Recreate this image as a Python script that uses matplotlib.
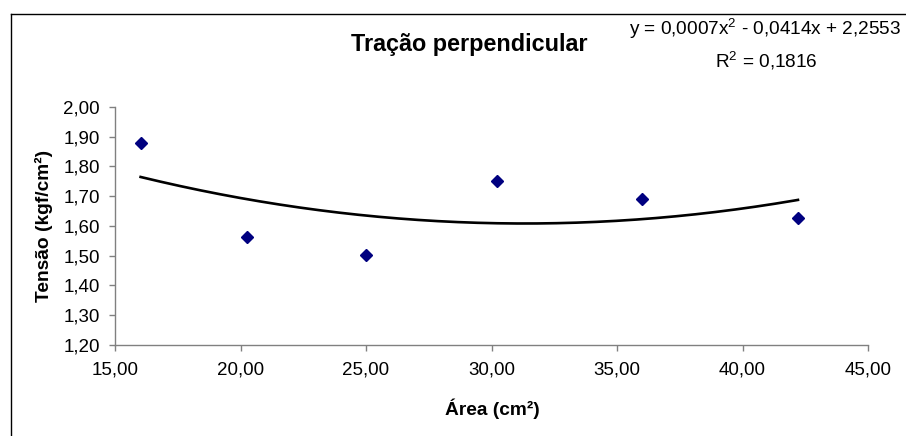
import numpy as np
import matplotlib
matplotlib.use("Agg")
import matplotlib.pyplot as plt
from matplotlib.lines import Line2D
from matplotlib.ticker import FuncFormatter

plt.rcParams["font.family"] = ["Liberation Sans", "DejaVu Sans"]

# pontos medidos
area = [16.02, 20.25, 25.00, 30.23, 35.98, 42.21]
tensao = [1.879, 1.562, 1.502, 1.751, 1.690, 1.626]

titulo = "Tração perpendicular"
eq_linha1 = "y = 0,0007x$^2$ - 0,0414x + 2,2553"
eq_linha2 = "R$^2$ = 0,1816"

x_ticks = [15, 20, 25, 30, 35, 40, 45]
y_ticks = [1.2, 1.3, 1.4, 1.5, 1.6, 1.7, 1.8, 1.9, 2.0]

plt.rcParams["mathtext.fontset"] = "custom"
plt.rcParams["mathtext.rm"] = "Liberation Sans"
plt.rcParams["mathtext.default"] = "regular"

W, H = 906, 436
fig = plt.figure(figsize=(W/100, H/100), dpi=100)
ax = fig.add_axes([115/W, 1-345/H, (868-115)/W, (345-107)/H])

# linha de tendencia polinomial (ordem 2)
coef = np.polyfit(area, tensao, 2)
xs = np.linspace(min(area), max(area), 200)
ax.plot(xs, np.polyval(coef, xs), color="black", lw=1.9, zorder=2)

ax.plot(area, tensao, linestyle="none", marker="D", ms=6.5,
        color="#000080", mec="#000080", zorder=3)

ax.set_xlim(15, 45)
ax.set_ylim(1.2, 2.0)
ax.set_xticks(x_ticks)
ax.set_yticks(y_ticks)
fmt = FuncFormatter(lambda v, p: f"{v:.2f}".replace(".", ","))
ax.xaxis.set_major_formatter(fmt)
ax.yaxis.set_major_formatter(fmt)

for s in ["top", "right"]:
    ax.spines[s].set_visible(False)
for s in ["left", "bottom"]:
    ax.spines[s].set_color("#808080")
    ax.spines[s].set_linewidth(1.0)
ax.tick_params(axis="both", direction="out", length=4, width=1.0,
               color="#808080", labelsize=13.5, labelcolor="black")
ax.tick_params(axis="x", pad=8)
ax.tick_params(axis="y", pad=7)

fig.text(44/W, 1-226/H, "Tensão (kgf/cm²)", rotation=90, fontsize=13.8,
         fontweight="bold", ha="center", va="center")
fig.text(492/W, 1-409/H, "Área (cm²)", fontsize=13.8, fontweight="bold",
         ha="center", va="center")
fig.text(469/W, 1-45/H, titulo, fontsize=16.8, fontweight="bold",
         ha="center", va="center")
fig.text(765/W, 1-29/H, eq_linha1, fontsize=13.7, ha="center", va="center")
fig.text(766/W, 1-61/H, eq_linha2, fontsize=13.7, ha="center", va="center")

# moldura do grafico
fig.add_artist(Line2D([11/W, 1.0], [1-14/H, 1-14/H], color="black", lw=1.0,
                      transform=fig.transFigure))
fig.add_artist(Line2D([11/W, 11/W], [0.0, 1-14/H], color="black", lw=1.0,
                      transform=fig.transFigure))

fig.savefig("out.png", dpi=100)
